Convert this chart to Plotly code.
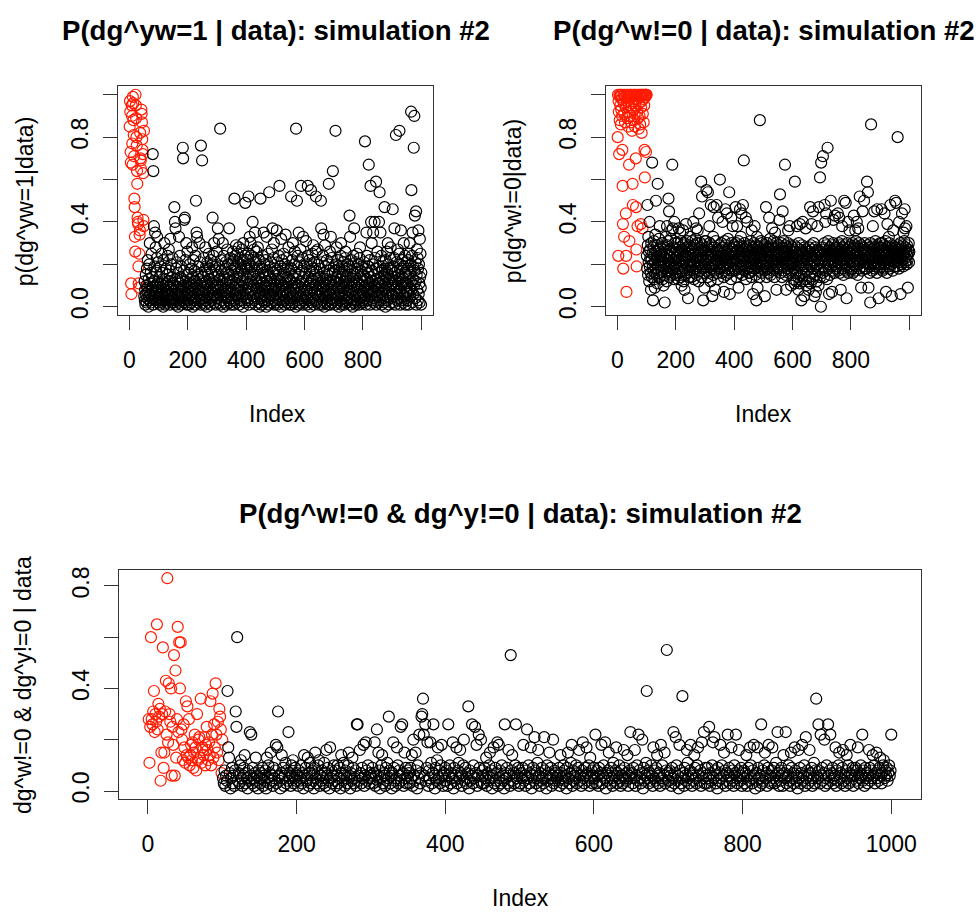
import plotly.graph_objects as go

# ---------------- data (values in hundredths) ----------------
# Panel 1: P(dg^yw=1 | data)  -- red = indices 1..50, black = 51..1000
p1_red = [85,97,92,73,68,11,6,95,90,77,
          67,99,96,88,81,71,51,47,33,26,
          100,95,89,80,76,64,58,42,40,39,
          19,11,9,25,34,36,82,70,69,65,
          93,91,87,79,74,72,63,41,38,83]
p1_black = [
 5,12,3,8,1,15,6,10,2,18, 4,9,22,7,0,13,5,20,3,30, 11,6,16,2,9,25,4,14,8,72, 1,64,12,38,6,19,3,35,10,28, 5,17,7,23,33,11,4,21,9,2,
 8,3,14,6,1,11,19,4,9,25, 2,7,16,5,12,0,22,10,3,30, 6,13,1,8,18,4,11,2,15,7, 24,5,9,3,27,12,6,17,1,32, 10,4,20,8,2,14,6,23,3,11,
 4,10,2,47,7,40,13,37,1,18, 6,9,3,21,12,5,0,16,8,33, 2,11,24,4,14,7,1,19,9,3, 13,6,75,70,10,2,17,41,5,42, 8,22,4,12,30,1,15,6,26,9,
 3,16,7,11,1,20,5,9,13,2, 18,6,10,4,28,8,0,14,22,5, 12,3,17,7,1,24,9,50,4,35, 11,33,6,15,2,19,8,3,13,30, 5,21,10,1,76,7,16,4,69,12,
 6,14,2,9,23,4,11,1,17,28, 8,3,19,12,5,0,21,10,7,15, 2,25,13,6,18,4,9,1,22,11, 16,3,7,20,42,5,12,24,8,30, 2,14,6,19,10,1,17,4,26,9,
 11,4,37,8,15,32,2,19,6,13, 84,1,9,22,5,17,3,12,7,30, 10,0,24,6,14,2,18,8,4,21, 11,1,16,7,27,5,13,20,3,9, 15,37,6,12,2,23,8,1,17,4,
 7,20,12,3,26,15,9,22,1,51, 18,5,24,11,29,6,19,2,14,25, 8,21,4,16,28,10,1,23,13,7, 20,3,17,9,27,12,5,22,0,30, 15,6,19,11,2,24,49,8,18,4,
 14,6,22,9,3,18,25,52,11,1, 20,33,7,16,30,4,24,12,2,19, 8,40,15,5,23,10,27,3,17,35, 6,21,1,13,26,9,4,18,11,28, 2,15,22,7,12,0,19,5,51,10,
 4,13,1,18,8,24,3,11,16,35, 6,20,2,9,14,5,22,10,0,33, 12,7,17,3,25,9,1,15,54,6, 19,11,4,21,8,13,2,27,10,37, 5,16,7,23,30,1,12,18,3,9,
 10,2,17,6,36,13,1,21,8,4, 15,24,9,57,3,12,19,5,0,32, 11,7,22,14,2,18,6,25,10,3, 16,1,20,8,34,12,5,23,9,2, 14,6,19,11,28,4,17,1,13,7,
 3,12,7,52,18,1,10,22,5,30, 14,8,2,20,11,4,26,9,16,0, 84,13,6,50,19,3,24,10,1,35, 15,7,21,2,12,27,5,57,9,17, 4,23,11,1,33,14,6,19,8,3,
 9,2,16,5,31,12,20,1,8,24, 57,4,14,10,3,22,7,17,0,11, 6,55,19,2,13,25,9,4,18,29, 12,1,21,7,15,3,10,26,52,6, 17,2,13,8,27,5,20,11,1,14,
 5,18,10,2,14,50,37,8,21,1, 12,6,24,3,34,9,16,0,11,29, 4,19,7,13,2,22,10,5,15,1, 20,8,58,3,17,11,26,6,1,33, 12,4,23,9,2,16,64,7,13,19,
 10,3,17,6,1,83,12,20,4,28, 8,14,2,22,9,5,16,0,11,18, 3,13,7,24,30,1,10,19,6,15, 2,21,9,4,12,17,1,7,23,26, 5,14,10,2,18,8,3,20,11,6,
 12,4,19,43,7,33,1,15,9,22, 3,11,17,6,0,13,24,8,2,37, 10,5,18,14,1,21,7,12,3,25, 16,9,2,20,6,11,1,23,8,28, 4,14,17,5,10,2,19,7,13,3,
 6,15,2,21,9,12,78,4,18,1, 10,35,7,24,13,3,19,8,16,67, 5,11,22,1,14,57,9,40,6,30, 17,3,12,20,35,8,2,15,10,40, 4,23,7,13,59,1,18,11,5,26,
 9,2,16,11,40,5,54,19,3,35, 13,7,24,1,10,17,6,21,12,4, 15,8,2,47,18,11,0,22,9,14, 5,26,3,16,30,7,20,12,1,18, 8,13,23,4,28,10,2,17,6,11,
 14,46,5,19,10,2,23,37,8,16, 1,12,81,6,21,9,3,17,11,27, 4,15,7,25,83,13,1,20,8,36, 10,18,3,14,22,6,12,2,19,30, 9,16,5,24,11,1,15,7,21,4,
 11,3,18,7,22,14,1,25,9,30, 16,5,20,12,92,55,8,24,2,35, 13,19,6,75,10,90,17,43,4,21, 12,45,1,15,27,8,23,3,18,36, 6,20,11,2,32,14,25,9,1,16]

# Panel 2: P(dg^w!=0 | data)  -- red = indices 1..100, black = 101..1000
p2_red = [80,100,24,97,92,72,100,88,99,95,
          100,86,93,100,98,90,74,57,39,18,
          100,96,33,91,100,87,99,94,44,24,
          7,100,97,89,100,92,85,99,95,67,
          31,100,98,90,100,94,87,100,96,83,
          99,58,48,100,93,97,88,100,91,85,
          100,95,70,47,27,19,100,92,38,98,
          89,100,84,96,100,90,99,86,100,39,
          94,100,82,97,100,37,91,100,98,87,
          100,95,74,61,100,99,100,73,100,100]
p2_black = [
 24,18,48,29,15,33,21,26,12,40, 19,27,23,16,8,30,22,14,68,25, 20,3,28,17,31,24,13,9,21,34, 18,50,26,15,23,29,11,58,20,27, 16,32,22,25,38,14,28,19,24,21,
 26,17,22,30,13,24,19,10,28,21, 15,2,27,23,18,33,20,25,12,38, 29,16,22,31,51,19,45,14,24,27, 21,17,32,23,36,20,15,67,26,37, 18,28,22,13,40,25,19,30,16,23,
 21,27,15,24,30,18,23,13,26,37, 20,16,28,22,35,25,14,31,19,10, 27,23,17,29,36,21,12,24,30,8, 18,26,22,15,39,28,20,24,16,31, 23,4,27,19,25,14,29,21,33,17,
 24,19,28,14,22,31,17,26,20,40, 25,13,29,21,16,27,23,32,18,37, 22,15,30,24,36,19,27,12,25,44, 21,28,17,23,30,26,59,20,14,52, 24,29,18,3,22,27,16,9,31,20,
 19,26,22,31,55,17,24,28,14,54, 21,27,16,23,38,30,19,25,12,48, 22,29,18,24,5,20,26,33,15,47, 23,17,28,21,8,25,31,19,24,48, 16,27,22,13,42,26,20,29,18,23,
 60,24,18,27,21,30,16,25,22,40, 28,19,23,14,7,26,31,20,17,46, 24,29,21,15,44,27,18,23,32,20, 25,16,54,28,6,22,19,26,13,42, 30,21,24,17,38,27,22,18,29,25,
 23,28,17,25,47,20,30,14,26,38, 22,18,27,31,9,24,19,29,16,46, 25,21,33,18,44,27,23,15,28,48, 20,26,69,22,17,30,24,19,27,42, 13,25,21,28,40,18,23,29,16,24,
 27,21,16,29,24,19,31,22,14,36, 26,20,28,17,6,25,23,30,18,38, 22,27,15,24,29,3,21,33,19,9, 26,17,23,28,20,25,14,88,27,22, 18,31,24,16,30,21,26,19,28,23,
 20,27,23,17,5,29,24,19,47,26, 14,22,30,18,25,21,28,16,24,42, 27,19,32,23,15,26,20,29,22,37, 17,24,28,21,31,18,25,14,27,35, 23,20,26,30,8,22,17,28,24,19,
 26,18,24,29,41,21,53,27,16,23, 30,20,25,14,28,45,22,19,31,24, 17,26,21,67,23,29,15,8,25,20, 28,18,24,30,36,22,16,27,21,38, 25,19,29,23,10,26,20,17,28,22,
 21,27,13,24,18,29,11,59,23,16, 26,20,12,28,38,22,17,25,14,8, 30,19,24,11,39,27,21,15,26,3, 18,23,29,12,40,20,25,16,22,5, 28,13,24,19,37,27,10,23,21,26,
 17,25,22,12,8,28,20,14,26,47, 23,11,29,19,39,24,16,27,13,45, 22,30,18,25,5,21,15,28,24,7, 19,26,12,23,38,20,27,17,10,47, 25,22,18,61,14,26,0,68,21,24,
 22,28,16,71,25,19,27,14,30,48, 21,40,24,17,44,29,23,13,26,75, 20,31,18,25,6,22,28,15,27,24, 50,19,26,21,7,29,17,24,30,41, 22,27,16,25,43,20,28,23,18,26,
 25,19,28,23,44,17,26,30,21,42, 24,16,29,22,8,27,20,25,31,38, 18,24,28,15,26,21,50,23,29,19, 25,49,17,27,4,22,30,20,24,40, 16,28,23,26,36,19,25,21,29,17,
 23,27,18,25,30,21,16,28,24,43, 20,26,29,17,36,23,31,19,25,40, 22,27,15,28,37,24,20,30,18,52, 26,21,25,29,9,23,17,27,22,45, 28,19,24,26,50,21,30,18,25,23,
 27,21,25,18,59,23,29,54,20,9, 26,22,28,16,24,2,30,19,86,25, 21,27,17,23,38,29,20,26,22,45, 18,28,24,31,19,25,21,27,16,46, 29,23,26,20,4,28,22,25,18,30,
 24,28,19,26,46,22,30,17,25,21, 27,23,18,29,44,20,26,24,31,7, 22,28,16,25,39,21,27,23,19,33, 26,30,18,24,48,22,28,20,25,5, 29,23,17,26,36,21,27,24,19,28,
 50,25,21,28,49,23,27,19,26,80, 22,29,24,18,40,27,21,25,30,6, 23,28,20,26,44,22,29,24,19,35, 27,25,31,46,37,21,28,23,26,38, 20,29,24,22,9,27,25,30,21,26]

# Panel 3: P(dg^w!=0 & dg^y!=0 | data)  -- red = indices 1..100, black = 101..1000
p3_red = [28,11,25,60,28,26,31,39,23,30,
          27,65,24,34,29,32,4,15,30,56,
          9,15,31,43,22,83,19,42,30,27,
          40,6,25,18,53,6,47,13,28,64,
          23,58,40,58,24,20,12,26,17,11,
          35,14,33,13,28,10,14,18,12,19,
          9,15,22,17,8,30,12,20,21,13,
          36,11,17,16,14,21,10,18,25,16,
          12,19,14,35,10,22,38,13,26,17,
          42,22,15,27,12,32,29,24,7,20]
p3_black = [
 5,3,8,2,6,4,39,17,13,7, 1,5,9,3,6,2,8,31,25,60, 4,7,3,10,12,5,2,6,9,14, 3,7,5,1,8,4,23,6,22,3, 9,5,2,7,13,4,6,1,8,5,
 3,7,5,9,2,6,4,8,1,13, 5,10,3,7,15,4,6,2,9,5, 8,18,3,17,31,6,4,1,7,14, 5,9,2,6,11,3,8,4,23,5, 7,2,10,6,12,3,5,9,4,7,
 6,2,8,4,5,10,3,7,1,14, 6,9,4,5,13,2,7,11,3,6, 8,4,1,9,15,5,3,7,10,12, 2,6,4,8,5,3,11,7,2,16, 6,9,4,1,17,5,8,3,6,10,
 4,8,2,6,10,3,5,9,1,14, 7,4,11,6,2,8,5,3,10,15, 6,1,7,4,13,9,3,5,8,2, 26,26,6,4,16,7,3,9,5,18, 2,6,19,8,4,10,5,3,7,6,
 5,9,3,7,19,2,6,24,4,15, 8,1,5,10,14,3,7,6,2,9, 4,11,5,29,8,3,6,1,7,19, 9,4,2,5,17,10,3,8,6,25, 4,26,7,2,15,5,9,3,6,8,
 7,3,9,5,14,2,20,6,4,15, 8,1,10,5,22,3,7,29,30,36, 22,6,26,4,9,19,2,8,5,19, 11,3,7,26,6,1,9,4,12,17, 5,8,3,10,18,6,2,7,4,9,
 4,8,2,26,6,10,3,7,5,19, 1,9,4,6,17,3,8,11,5,16, 7,2,6,10,20,4,9,3,5,7, 33,1,8,4,6,26,3,10,5,25, 7,18,2,6,22,9,4,20,3,8,
 6,3,9,5,13,2,7,4,10,15, 5,8,1,6,17,3,9,4,7,19, 2,18,5,8,3,10,6,4,1,26, 7,5,9,3,16,6,2,53,8,14, 4,7,3,10,26,5,6,9,2,8,
 3,7,5,9,18,4,6,2,8,24, 5,10,3,7,17,1,6,9,4,21, 8,3,5,11,16,6,2,7,4,9, 5,3,21,8,6,1,10,4,7,15, 5,9,2,6,20,3,8,4,7,5,
 6,4,9,2,14,7,5,3,10,8, 4,6,1,9,15,5,3,7,11,18, 2,8,4,6,5,10,3,7,9,16, 4,6,2,8,19,5,3,9,6,17, 7,4,10,2,13,5,8,3,6,9,
 5,22,3,8,6,2,9,4,7,18, 3,6,10,5,19,1,7,4,8,15, 6,3,9,5,2,11,6,4,8,17, 3,7,5,10,4,2,8,6,3,16, 9,5,4,7,14,2,6,8,23,5,
 7,3,9,5,16,2,6,10,4,22, 8,5,3,7,20,1,9,4,6,11, 39,5,8,3,7,4,10,6,2,17, 5,8,4,9,14,3,6,7,2,18, 5,10,4,6,15,3,8,55,7,4,
 4,8,6,2,9,5,23,3,7,21, 10,4,6,1,18,8,3,5,37,7, 2,9,6,4,16,11,5,3,8,18, 6,2,7,4,14,9,5,3,10,17, 6,4,8,2,19,7,5,23,3,9,
 6,3,9,5,25,2,7,4,10,19, 5,21,8,3,6,1,9,4,7,18, 5,10,3,6,15,8,2,7,4,22, 6,9,3,5,17,4,8,2,10,7, 22,5,3,8,16,6,4,9,2,7,
 5,8,3,7,14,2,6,9,4,17, 10,5,3,8,18,6,1,7,4,17, 9,5,2,6,26,3,8,4,10,15, 5,7,2,9,18,4,6,3,8,17, 5,9,3,6,11,4,23,7,2,8,
 4,9,6,2,14,7,5,23,3,8, 6,10,4,2,15,9,5,7,3,17, 8,4,6,1,16,5,9,3,7,18, 4,6,10,2,21,5,8,3,6,16, 7,4,9,2,5,11,3,8,36,6,
 5,26,8,3,22,6,9,4,7,20, 2,5,10,3,26,6,8,22,4,7, 9,3,5,6,17,2,8,4,10,15, 5,7,3,9,16,4,6,2,8,14, 5,10,3,7,18,4,6,9,2,8,
 6,9,4,8,17,3,7,5,10,6, 22,4,8,2,9,5,7,3,6,16, 9,4,8,5,14,6,10,3,7,15, 5,8,4,9,13,6,3,7,10,12, 5,8,6,9,4,7,10,6,8,22]

x_tick_vals = [0, 200, 400, 600, 800, 1000]
x_tick_text_top = ["0", "200", "400", "600", "800", ""]
x_tick_text_bottom = ["0", "200", "400", "600", "800", "1000"]
y_tick_vals_top = [0.0, 0.2, 0.4, 0.6, 0.8, 1.0]
y_tick_text_top = ["0.0", "", "0.4", "", "0.8", ""]
y_tick_vals_bottom = [0.0, 0.2, 0.4, 0.6, 0.8]
y_tick_text_bottom = ["0.0", "", "0.4", "", "0.8"]

titles = ["P(dg^yw=1 | data): simulation #2",
          "P(dg^w!=0 | data): simulation #2",
          "P(dg^w!=0 &amp; dg^y!=0 | data): simulation #2"]
ylabels = ["p(dg^yw=1|data)", "p(dg^w!=0|data)", "dg^w!=0 &amp; dg^y!=0 | data"]

# ---------------- figure ----------------
W, H = 979, 912
FONT = "Liberation Sans, Arial, Helvetica, sans-serif"
RED = "#ff1a00"

def scale(v):
    return [a / 100.0 for a in v]

fig = go.Figure()
panels = [
    (p1_red, p1_black, "x", "y"),
    (p2_red, p2_black, "x2", "y2"),
    (p3_red, p3_black, "x3", "y3"),
]
for red, black, xa, ya in panels:
    n_red = len(red)
    fig.add_trace(go.Scatter(
        x=list(range(1, n_red + 1)), y=scale(red), mode="markers",
        xaxis=xa, yaxis=ya, showlegend=False, hoverinfo="skip",
        marker=dict(symbol="circle-open", size=11, color=RED, line=dict(width=1.2))))
    fig.add_trace(go.Scatter(
        x=list(range(n_red + 1, n_red + 1 + len(black))), y=scale(black), mode="markers",
        xaxis=xa, yaxis=ya, showlegend=False, hoverinfo="skip",
        marker=dict(symbol="circle-open", size=11, color="black", line=dict(width=1.2))))

def px_x(v):
    return v / W

def px_y(v):
    return 1 - v / H

axis_common = dict(showline=True, linecolor="#333", linewidth=1.2, mirror=True,
                   ticks="outside", ticklen=14, tickwidth=1.2, tickcolor="#333",
                   showgrid=False, zeroline=False,
                   tickfont=dict(family=FONT, size=23, color="black"))

boxes = [((118, 433), (84, 315)), ((606, 921), (84, 315)), ((119, 921), (572, 803))]
yranges = [[-0.04, 1.04], [-0.04, 1.04], [-0.031, 0.862]]
layout = {}
for i, ((x0, x1), (y0, y1)) in enumerate(boxes):
    sx = "" if i == 0 else str(i + 1)
    bottom = (i == 2)
    layout["xaxis" + sx] = dict(axis_common, domain=[px_x(x0), px_x(x1)], anchor="y" + sx,
                                range=[-39, 1040], tickvals=x_tick_vals,
                                ticktext=x_tick_text_bottom if bottom else x_tick_text_top,
                                ticklabelstandoff=10)
    layout["yaxis" + sx] = dict(axis_common, domain=[px_y(y1), px_y(y0)], anchor="x" + sx,
                                range=yranges[i],
                                tickvals=y_tick_vals_bottom if bottom else y_tick_vals_top,
                                ticktext=y_tick_text_bottom if bottom else y_tick_text_top,
                                tickangle=-90, ticklabelstandoff=6)

annotations = []
title_pos = [(275.5, 28), (763.5, 28), (520, 515)]
for t, (cx, cy) in zip(titles, title_pos):
    annotations.append(dict(text="<b>" + t + "</b>", x=px_x(cx), y=px_y(cy), xref="paper", yref="paper",
                            xanchor="center", yanchor="middle", showarrow=False,
                            font=dict(family=FONT, size=27.6, color="black")))
ylab_pos = [(25, 200), (513, 200), (23, 688)]
for t, (cx, cy) in zip(ylabels, ylab_pos):
    annotations.append(dict(text=t, x=px_x(cx), y=px_y(cy), xref="paper", yref="paper",
                            xanchor="center", yanchor="middle", showarrow=False, textangle=-90,
                            font=dict(family=FONT, size=23, color="black")))
xlab_pos = [(277, 415), (763, 415), (520, 903)]
for cx, cy in xlab_pos:
    annotations.append(dict(text="Index", x=px_x(cx), y=px_y(cy), xref="paper", yref="paper",
                            xanchor="center", yanchor="middle", showarrow=False,
                            font=dict(family=FONT, size=23, color="black")))

fig.update_layout(width=W, height=H, margin=dict(l=0, r=0, t=0, b=0),
                  paper_bgcolor="white", plot_bgcolor="white",
                  annotations=annotations, **layout)
fig.write_html("out.html", config={"displayModeBar": False},
               post_script="document.body.style.margin='0';document.body.style.overflow='hidden';")
